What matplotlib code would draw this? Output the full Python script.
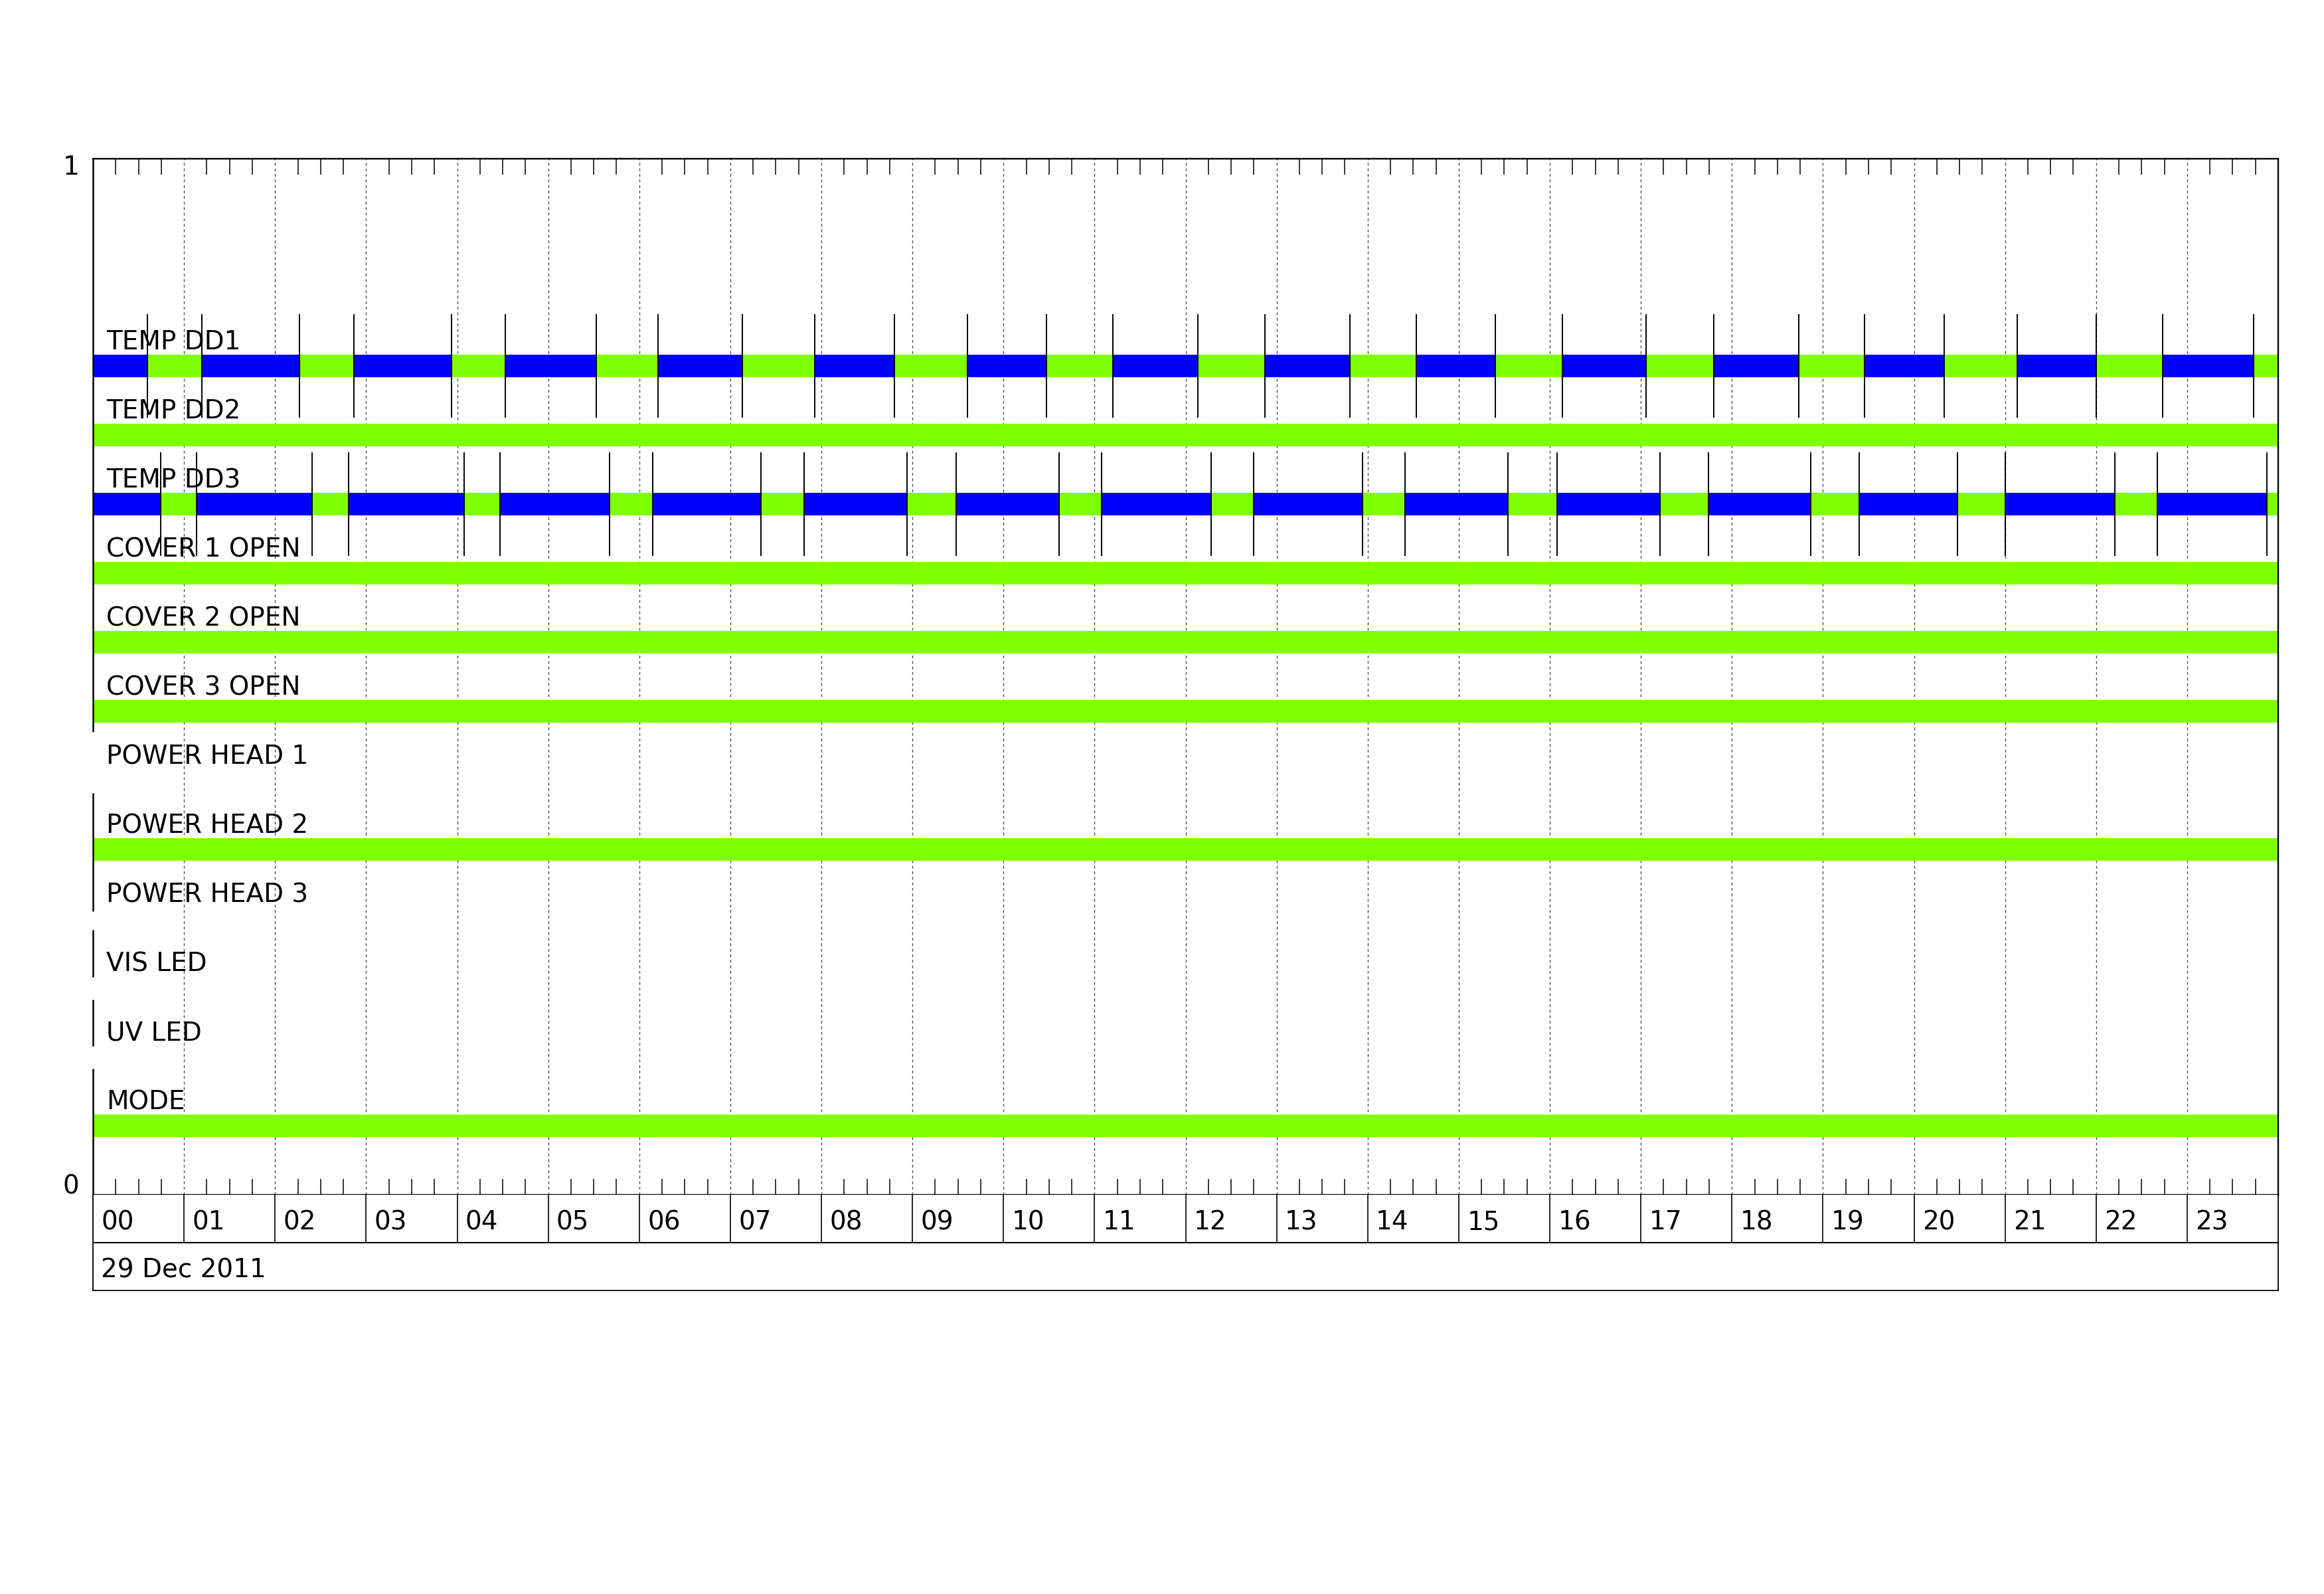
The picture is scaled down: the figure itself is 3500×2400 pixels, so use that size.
import matplotlib
matplotlib.use('Agg')
import matplotlib.pyplot as plt
import numpy as np

# channel names, top to bottom
channels = ['TEMP DD1', 'TEMP DD2', 'TEMP DD3', 'COVER 1 OPEN', 'COVER 2 OPEN',
            'COVER 3 OPEN', 'POWER HEAD 1', 'POWER HEAD 2', 'POWER HEAD 3',
            'VIS LED', 'UV LED', 'MODE']
# state at 00:00 (0 = blue, 1 = green, None = no data)
start_state = [0, 1, 0, 1, 1, 1, None, 1, None, None, None, 1]

# state change times in hours
dd1_changes = [0.600, 1.195, 2.271, 2.865, 3.937, 4.532, 5.528, 6.205, 7.134,
               7.930, 8.801, 9.601, 10.472, 11.200, 12.133, 12.869, 13.803,
               14.532, 15.403, 16.140, 17.060, 17.800, 18.734, 19.459, 20.330,
               21.133, 22.000, 22.733, 23.730]
dd3_changes = [0.743, 1.136, 2.409, 2.807, 4.079, 4.474, 5.677, 6.147, 7.340,
               7.809, 8.943, 9.479, 10.610, 11.078, 12.279, 12.744, 13.942,
               14.411, 15.541, 16.077, 17.211, 17.743, 18.868, 19.400, 20.476,
               21.004, 22.205, 22.675, 23.876]
changes = [dd1_changes, [], dd3_changes, [], [], [], [], [], [], [], [], []]

hour_labels = ['%02d' % h for h in range(24)]
date_label = '29 Dec 2011'

# pieces of the left edge line that are drawn
left_edge = [(0.447, 1.0), (0.2735, 0.388), (0.2105, 0.2558), (0.1434, 0.1887), (0.0, 0.1216)]

state_colors = {0: '#0000ff', 1: '#7fff00'}
plt.rcParams['font.family'] = ['DejaVu Sans']

W, H = 3500, 2400
fig = plt.figure(figsize=(35, 24), dpi=100)
x0, x1 = 140, 3431
ax = fig.add_axes([x0 / W, 1 - 1799 / H, (x1 - x0) / W, (1799 - 239) / H])
ax.set_xlim(0, 24)
ax.set_ylim(0, 1)

# hour grid
ax.vlines(np.arange(1, 24), 0, 1, colors='0.3', linestyles=(0, (3, 3)), lw=1.0, zorder=1)

# quarter hour ticks
minor = [h + q for h in range(24) for q in (0.25, 0.5, 0.75)]
ax.set_xticks(minor, minor=True)
ax.set_xticks([])
ax.set_yticks([])
ax.tick_params(axis='x', which='minor', direction='in', top=True, bottom=True,
               length=17, width=1.1, labelbottom=False)

n = len(channels)
bar_h = 0.0212
for i, name in enumerate(channels):
    y = (n - i) / 15
    st = start_state[i]
    if st is not None:
        edges = [0] + changes[i] + [24]
        spans, cols = [], []
        for k in range(len(edges) - 1):
            spans.append((edges[k], edges[k + 1] - edges[k]))
            cols.append(state_colors[(st + k) % 2])
        ax.broken_barh(spans, (y - bar_h / 2, bar_h), facecolors=cols, zorder=2)
    if changes[i]:
        ax.vlines(changes[i], y - 0.05, y + 0.05, colors='black', lw=1.4, zorder=3)
    ax.text(0.146, y + 0.016, name, fontsize=28, ha='left', va='baseline', zorder=4)

for lo, hi in left_edge:
    ax.vlines(0, lo, hi, colors='black', lw=1.8, clip_on=False, zorder=5)

for s in ['top', 'right', 'bottom']:
    ax.spines[s].set_linewidth(1.7)
ax.spines['left'].set_visible(False)

ax.text(-0.15, 0.9917, '1', fontsize=28, ha='right', va='center')
ax.text(-0.15, 0.0083, '0', fontsize=28, ha='right', va='center')

# time / date table below
ax2 = fig.add_axes([x0 / W, 1 - 1943 / H, (x1 - x0) / W, (1943 - 1799) / H])
ax2.set_xlim(0, 24)
ax2.set_ylim(0, 2)
ax2.set_xticks([])
ax2.set_yticks([])
for s in ax2.spines.values():
    s.set_linewidth(1.3)
ax2.spines['top'].set_visible(False)
ax2.axhline(1, color='black', lw=1.5)
ax2.vlines(np.arange(1, 24), 1, 2, colors='black', lw=1.2)
for h, lab in enumerate(hour_labels):
    ax2.text(h + 0.09, 1.43, lab, fontsize=28, ha='left', va='center')
ax2.text(0.09, 0.43, date_label, fontsize=28, ha='left', va='center')

fig.savefig('out.png', dpi=100, facecolor='white')
